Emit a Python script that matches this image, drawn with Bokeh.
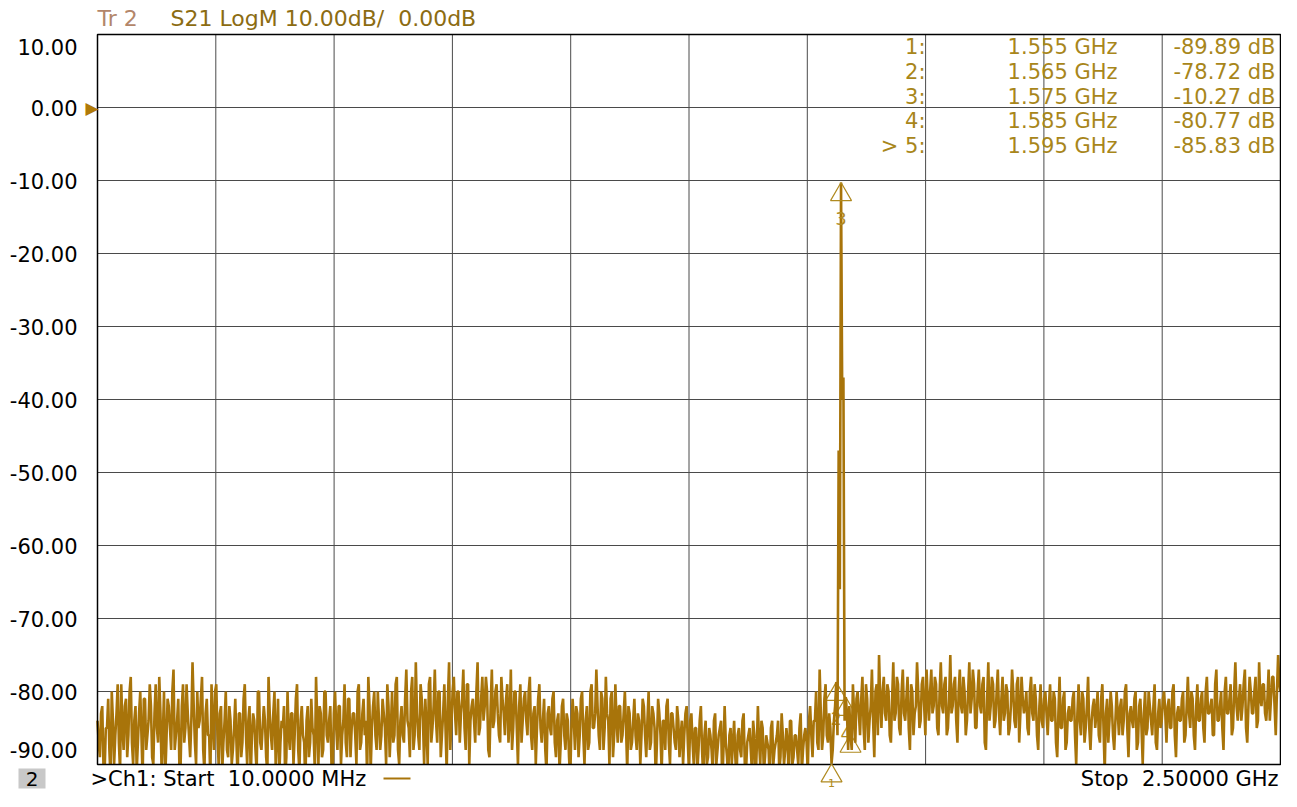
import numpy as np
from bokeh.plotting import figure
from bokeh.models import Range1d, Label
from bokeh.embed import file_html
from bokeh.resources import INLINE

# ---------------- data ----------------
start_mhz = 10.0
stop_mhz = 2500.0

# S21 trace, dB: sweep points at 10, 15, 20 ... 2500 MHz
trace_db_main = [
    -84, -89, -82, -91, -85, -88, -80, -90, -83, -87,
    -79, -88, -81, -86, -78, -90, -82, -87, -80, -92,
    -81, -86, -79, -89, -83, -85, -78, -91, -80, -87,
    -82, -88, -77, -86, -81, -90, -79, -85, -83, -89,
    -76, -87, -80, -84, -78, -91, -81, -86, -79, -88,
    -79, -90, -82, -87, -80, -89, -84, -88, -81, -92,
    -83, -87, -79, -90, -82, -86, -84, -91, -80, -88,
    -82, -89, -78, -86, -83, -90, -81, -87, -85, -92,
    -80, -88, -83, -86, -79, -91, -82, -87, -84, -89,
    -81, -86, -78, -90, -83, -88, -80, -87, -82, -91,
    -80, -88, -82, -86, -79, -89, -81, -85, -83, -90,
    -79, -87, -81, -84, -78, -91, -82, -86, -80, -88,
    -81, -85, -79, -89, -80, -86, -78, -90, -82, -87,
    -77, -85, -80, -88, -76, -86, -79, -84, -81, -90,
    -78, -85, -77, -87, -80, -86, -79, -91, -76, -84,
    -78, -86, -80, -83, -77, -88, -79, -84, -81, -87,
    -76, -85, -78, -82, -80, -89, -77, -84, -79, -86,
    -78, -83, -81, -87, -77, -85, -80, -90, -79, -84,
    -80, -86, -78, -88, -82, -85, -79, -87, -81, -91,
    -82, -86, -80, -89, -83, -87, -81, -88, -84, -92,
    -81, -88, -83, -86, -80, -90, -82, -87, -79, -85,
    -77, -86, -80, -88, -78, -84, -81, -89, -79, -87,
    -82, -86, -80, -91, -83, -87, -81, -88, -84, -86,
    -82, -89, -80, -87, -83, -92, -81, -86, -84, -88,
    -81, -90, -83, -87, -82, -89, -84, -86, -82, -91,
    -83, -90, -85, -88, -82, -92, -84, -89, -86, -91,
    -83, -88, -85, -93, -82, -89, -86, -90, -84, -92,
    -85, -89, -83, -91, -86, -88, -84, -93, -82, -90,
    -85, -89, -87, -92, -84, -88, -86, -91, -83, -90,
    -85, -92, -84, -89, -86, -90, -83, -88, -85, -91,
    -82, -89, -84, -87, -77, -88, -81, -86, -83, -89.89,
    -84, -78.72, -47, -10.27, -37, -80.77, -88, -85.83, -79, -87,
    -80, -86, -78, -88, -81, -84, -77, -89, -79, -75,
    -85, -78, -84, -80, -87, -76, -83, -79, -86, -77,
    -84, -78, -88, -80, -83, -76, -85, -79, -82, -77,
    -84, -77, -82, -79, -86, -76, -83, -78, -85, -75,
    -82, -78, -87, -77, -83, -80, -84, -76, -81, -79,
    -85, -77, -83, -78, -88, -76, -82, -79, -84, -77,
    -86, -78, -83, -80, -85, -77, -84, -79, -87, -78,
    -83, -80, -86, -78, -84, -81, -88, -79, -85, -80,
    -86, -79, -84, -81, -89, -78, -85, -80, -87, -82,
    -84, -80, -90, -79, -86, -81, -85, -78, -88, -82,
    -85, -80, -87, -79, -91, -81, -84, -82, -88, -80,
    -86, -81, -84, -79, -89, -82, -85, -80, -87, -81,
    -90, -80, -85, -82, -86, -79, -88, -81, -84, -80,
    -87, -81, -85, -79, -89, -82, -84, -80, -86, -78,
    -85, -81, -88, -79, -84, -80, -87, -78, -83, -81,
    -86, -77, -84, -80, -88, -78, -83, -79, -85, -76,
    -84, -79, -82, -77, -87, -78, -83, -80, -85, -76,
    -82, -79, -84, -77, -81, -78, -86, -75, -80,
]
# S21 trace, dB: sweep points in between, at 12.5, 17.5 ... 2497.5 MHz
trace_db_mid = [
    -87, -83, -90, -85, -81, -92, -84, -86, -79, -91,
    -85, -82, -89, -80, -87, -84, -91, -83, -86, -81,
    -88, -84, -82, -90, -79, -87, -83, -86, -92, -81,
    -85, -80, -88, -84, -91, -82, -87, -79, -86, -84,
    -82, -90, -85, -81, -88, -83, -86, -92, -84, -80,
    -86, -83, -91, -84, -88, -82, -90, -85, -87, -83,
    -89, -81, -86, -84, -92, -83, -88, -80, -87, -85,
    -84, -91, -83, -88, -80, -86, -92, -84, -82, -89,
    -86, -83, -90, -81, -88, -84, -86, -93, -82, -87,
    -85, -91, -84, -82, -89, -80, -86, -84, -90, -83,
    -85, -82, -90, -84, -87, -81, -89, -83, -86, -80,
    -88, -83, -86, -92, -82, -85, -80, -88, -84, -86,
    -83, -90, -82, -85, -87, -79, -88, -84, -86, -81,
    -84, -89, -78, -86, -83, -88, -81, -90, -85, -79,
    -87, -82, -84, -80, -89, -83, -85, -81, -88, -80,
    -83, -80, -87, -81, -85, -79, -90, -82, -84, -80,
    -86, -81, -84, -78, -88, -82, -85, -80, -83, -87,
    -81, -86, -79, -84, -88, -80, -85, -82, -87, -81,
    -84, -80, -86, -83, -90, -81, -85, -84, -88, -83,
    -85, -81, -87, -84, -91, -82, -86, -83, -89, -85,
    -84, -82, -89, -81, -86, -84, -88, -80, -85, -83,
    -82, -88, -81, -85, -83, -90, -80, -86, -84, -82,
    -87, -83, -85, -82, -88, -84, -86, -83, -90, -81,
    -86, -84, -88, -82, -85, -87, -83, -91, -84, -82,
    -87, -83, -85, -88, -84, -86, -90, -83, -87, -84,
    -87, -85, -91, -84, -88, -86, -90, -85, -88, -84,
    -90, -86, -84, -88, -87, -92, -85, -87, -89, -86,
    -88, -84, -90, -87, -85, -91, -86, -88, -87, -84,
    -91, -86, -88, -85, -90, -87, -84, -89, -86, -88,
    -87, -84, -90, -86, -88, -85, -91, -86, -87, -84,
    -86, -84, -80, -88, -83, -86, -79, -87, -85, -88,
    -82, -86, -66, -40, -84, -83, -82, -88, -83, -81,
    -83, -81, -85, -79, -87, -82, -84, -80, -86, -81,
    -80, -83, -79, -86, -81, -84, -78, -85, -80, -83,
    -81, -85, -79, -86, -82, -80, -84, -78, -86, -81,
    -80, -83, -78, -85, -80, -82, -79, -86, -81, -83,
    -79, -84, -80, -82, -78, -86, -80, -83, -77, -85,
    -80, -82, -79, -87, -81, -84, -78, -85, -80, -83,
    -81, -84, -79, -86, -82, -80, -85, -78, -83, -81,
    -82, -85, -80, -83, -79, -86, -82, -84, -81, -83,
    -82, -84, -80, -87, -83, -85, -81, -88, -83, -84,
    -81, -86, -83, -84, -80, -87, -82, -85, -84, -81,
    -83, -86, -81, -85, -83, -87, -80, -86, -84, -83,
    -82, -86, -80, -85, -83, -84, -81, -88, -82, -85,
    -83, -86, -80, -84, -82, -87, -83, -85, -81, -83,
    -82, -85, -80, -86, -83, -84, -81, -87, -82, -83,
    -80, -86, -82, -84, -81, -85, -80, -83, -82, -86,
    -79, -84, -82, -85, -80, -83, -81, -86, -80, -82,
    -81, -84, -79, -85, -82, -80, -83, -78, -84, -81,
    -79, -83, -81, -84, -78, -82, -80, -79,
]
n_pts = len(trace_db_main) + len(trace_db_mid)
trace_db = np.empty(n_pts)
trace_db[0::2] = trace_db_main
trace_db[1::2] = trace_db_mid
freq_mhz = np.linspace(start_mhz, stop_mhz, n_pts)

marker_ids = ["1", "2", "3", "4", "5"]
marker_freq_ghz = [1.555, 1.565, 1.575, 1.585, 1.595]
marker_db = [-89.89, -78.72, -10.27, -80.77, -85.83]
active_marker = "5"

y_top, y_bottom = 10.0, -90.0
y_ticks = [10, 0, -10, -20, -30, -40, -50, -60, -70, -80, -90]
x_divisions = 10

title_trace = "Tr 2"
title_rest = "S21 LogM 10.00dB/\u00a0 0.00dB"
start_text = ">Ch1: Start\u00a0 10.0000 MHz"
stop_text = "Stop\u00a0 2.50000 GHz"
channel_box = "2"

# ---------------- layout / styles ----------------
TRACE = "#a8740a"
GOLD_TXT = "#a8861a"
MARK = "#b08a20"
GRID = "#4a4a4a"
FONT = "DejaVu Sans"

W, H = 1281, 791
box_l, box_r, box_t, box_b = 97, 1280, 34, 764       # graticule box, canvas px
mhz_per_px = (stop_mhz - start_mhz) / (box_r - box_l)
db_per_px = (y_top - y_bottom) / (box_b - box_t)
x0 = start_mhz - box_l * mhz_per_px
y1 = y_top + box_t * db_per_px


def px_x(px):
    return x0 + px * mhz_per_px


def px_y(py):
    return y1 - py * db_per_px


p = figure(width=W, height=H, output_backend="svg", toolbar_location=None,
           x_axis_location=None, y_axis_location=None, title=None,
           x_range=Range1d(x0, stop_mhz + (W - box_r) * mhz_per_px),
           y_range=Range1d(y_bottom - (H - box_b) * db_per_px, y1),
           min_border=0)
p.background_fill_color = "white"
p.border_fill_color = "white"
p.outline_line_color = None
p.xgrid.visible = False
p.ygrid.visible = False

# graticule
x_grid = list(np.linspace(start_mhz, stop_mhz, x_divisions + 1))
p.segment(x0=x_grid, x1=x_grid, y0=[y_bottom] * len(x_grid), y1=[y_top] * len(x_grid),
          line_color=GRID, line_width=1)
p.segment(x0=[start_mhz] * len(y_ticks), x1=[stop_mhz] * len(y_ticks), y0=y_ticks, y1=y_ticks,
          line_color=GRID, line_width=1)


def lab(x, y, text, dx=0, dy=0, size="21px", color="black", align="left",
        baseline="middle", **kw):
    p.add_layout(Label(x=x, y=y, text=text, x_offset=dx, y_offset=dy,
                       text_font=FONT, text_font_size=size, text_color=color,
                       text_align=align, text_baseline=baseline, **kw))


mk_freq_mhz = [f * 1000 for f in marker_freq_ghz]
tri_size = 21
tri_shift = 0.577 * tri_size * db_per_px     # put the apex of the triangle on the value

# markers hidden in the noise (drawn beneath the trace)
hid = [i for i, m in enumerate(marker_ids) if m not in ("1", "3")]
p.scatter([mk_freq_mhz[i] for i in hid], [marker_db[i] - tri_shift for i in hid],
          marker="triangle", size=tri_size, fill_color=None, line_color=MARK, line_width=1.2)
for i in hid:
    lab(mk_freq_mhz[i], marker_db[i], marker_ids[i], dy=-36, size="17px", color=MARK,
        align="center", level="underlay")

# trace
p.line(freq_mhz, trace_db, line_color=TRACE, line_width=2.6)

# blank the area below the graticule (off-screen part of the trace)
p.quad(left=[x0], right=[stop_mhz + 50], bottom=[y_bottom - 30], top=[y_bottom],
       fill_color="white", line_color=None)
# graticule frame
p.quad(left=[start_mhz], right=[stop_mhz], bottom=[y_bottom], top=[y_top],
       fill_color=None, line_color="black", line_width=1.5)

# visible markers 1 and 3
vis = [i for i, m in enumerate(marker_ids) if m in ("1", "3")]
p.scatter([mk_freq_mhz[i] for i in vis], [marker_db[i] - tri_shift for i in vis],
          marker="triangle", size=tri_size, fill_color=None, line_color=MARK, line_width=1.2)
for i in vis:
    low = marker_db[i] < y_bottom + 5
    lab(mk_freq_mhz[i], marker_db[i], marker_ids[i], dy=(-19 if low else -36),
        size=("11px" if low else "18px"), color=MARK, align="center")

# y scale labels
for t in y_ticks:
    shift = -12 if t == y_top else (15 if t == y_bottom else 0)
    lab(start_mhz, t, f"{t:.2f}", dx=-20, dy=shift, align="right")
# reference level arrow
lab(start_mhz, 0, "\u25B6", dx=1, dy=0, size="17px", color="#b07a08", align="right")

# title
lab(px_x(97), px_y(18), title_trace, size="22px", color="#b3866a")
lab(px_x(170), px_y(18), title_rest, size="22px", color="#8c6c12")

# marker table
col_id_px, col_f_px, col_v_px = 925, 1117, 1275
row_px = [46, 71, 96, 120, 145]
for k, (mid, f, v) in enumerate(zip(marker_ids, marker_freq_ghz, marker_db)):
    yy = px_y(row_px[k])
    prefix = "> " if mid == active_marker else ""
    lab(px_x(col_id_px), yy, f"{prefix}{mid}:", color=GOLD_TXT, align="right")
    lab(px_x(col_f_px), yy, f"{f:.3f} GHz", color=GOLD_TXT, align="right")
    lab(px_x(col_v_px), yy, f"{v:.2f} dB", color=GOLD_TXT, align="right")

# footer
foot_y = px_y(778)
p.quad(left=[px_x(18)], right=[px_x(45)], bottom=[px_y(788)], top=[px_y(768)],
       fill_color="#c8c8c8", line_color=None)
lab(px_x(31.5), foot_y, channel_box, size="20px", color="black", align="center")
lab(px_x(90), foot_y, start_text, size="21px")
# trace colour sample next to the channel line
p.segment(x0=[px_x(383)], x1=[px_x(410)], y0=[foot_y], y1=[foot_y], line_color=TRACE, line_width=2)
lab(px_x(1278), foot_y, stop_text, size="21px", align="right")

open("out.html", "w").write(file_html(p, INLINE))
